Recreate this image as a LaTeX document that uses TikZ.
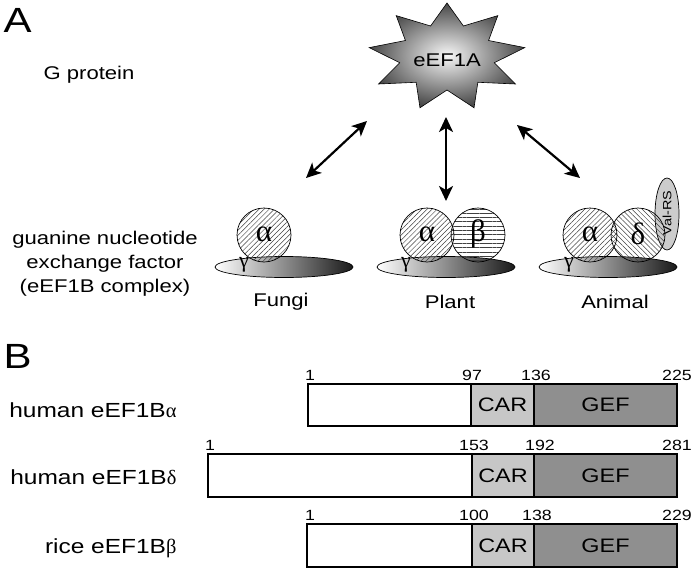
\documentclass[tikz,border=0pt]{standalone}
\usepackage{fontspec}
\setmainfont[FakeStretch=1.2]{Liberation Sans}
\newfontfamily\grk{Liberation Serif}
\usetikzlibrary{patterns.meta,arrows.meta,shadings,calc}
\definecolor{carc}{gray}{0.78}
\definecolor{gefc}{gray}{0.56}
\begin{document}
\begin{tikzpicture}[x=1pt,y=-1pt,
  body/.style={font=\fontsize{18.4}{24}\selectfont},
  lab/.style={font=\fontsize{20.4}{24}\selectfont},
  num/.style={font=\fontsize{14.8}{16}\selectfont},
  dom/.style={font=\fontsize{19.5}{22}\selectfont},
  big/.style={font=\fontsize{35}{40}\selectfont},
  greek/.style={font=\grk\fontsize{31}{32}\selectfont},
  gam/.style={font=\grk\fontsize{22}{24}\selectfont},
  hatchA/.style={pattern={Lines[angle=45,distance=3.6pt,line width=0.5pt]},pattern color=black!75},
  hatchD/.style={pattern={Lines[angle=-45,distance=3.6pt,line width=0.5pt]},pattern color=black!75},
  hatchB/.style={pattern={Lines[angle=0,distance=4.3pt,line width=0.5pt]},pattern color=black!75},
  platform/.style={draw=black,line width=0.7pt,left color=white,right color=black!90},
  subunit/.style={draw=black,line width=0.7pt},
  dbl/.style={{Stealth[length=15pt,width=14pt,inset=4pt]}-{Stealth[length=15pt,width=14pt,inset=4pt]},line width=2.2pt},
  domline/.style={draw=black,line width=1.4pt}]
\useasboundingbox (0,0) rectangle (693,570);

% ---------- Panel A ----------
\node[big,anchor=base west] (labA) at (0,32) {A};
\node[body] (gprot) at (89,75) {G protein};
\node[body,align=center] (gef) at (105,264) {guanine nucleotide\\exchange factor\\(eEF1B complex)};

% star
\draw[line width=0.6pt,inner color=white!97!black,outer color=black!72]
  (447,57) ++(-90:79 and 54)
  \foreach \k in {0,...,8} {
    -- ($(447,57)+(-70+40*\k:48 and 33)$) -- ($(447,57)+(-50+40*\k:79 and 54)$)
  } -- cycle;
\node[body] (eef) at (447,60) {eEF1A};

% arrows
\coordinate (a1s) at (367,121); \coordinate (a1e) at (306,178);
\coordinate (a2s) at (446,117); \coordinate (a2e) at (446,201);
\coordinate (a3s) at (517,125); \coordinate (a3e) at (580,178);
\draw[dbl] (a1s) -- (a1e);
\draw[dbl] (a2s) -- (a2e);
\draw[dbl] (a3s) -- (a3e);

% Fungi
\draw[platform] (284,267) ellipse [x radius=69,y radius=10.5];
\draw[subunit,hatchA] (264,235) circle [radius=27];
\node[greek] (fa) at (264,234) {α};
\node[gam] (fg) at (244,265) {γ};
\node[body] (fungi) at (281,302) {Fungi};

% Plant
\draw[platform] (446,267) ellipse [x radius=69,y radius=10.5];
\draw[subunit,hatchB] (478,235) circle [radius=27];
\draw[subunit,hatchA] (427,235) circle [radius=27];
\node[greek] (pa) at (427,234) {α};
\node[greek] (pb) at (478,234) {β};
\node[gam] (pg) at (406,265) {γ};
\node[body] (plant) at (450,302) {Plant};

% Animal
\draw[platform] (608,267) ellipse [x radius=69,y radius=10.5];
\draw[subunit,fill=black!20] (667,214) ellipse [x radius=12,y radius=36];
\node[font=\fontsize{12}{14}\selectfont,rotate=90] (val) at (667,213) {Val-RS};
\draw[subunit,hatchD] (638,235) circle [radius=27];
\draw[subunit,hatchA] (590,235) circle [radius=27];
\node[greek] (aa) at (590,234) {α};
\node[greek] (ad) at (638,234) {δ};
\node[gam] (ag) at (569,265) {γ};
\node[body] (animal) at (615,302) {Animal};

% ---------- Panel B ----------
\node[big,anchor=base west] (labB) at (0,368) {B};

% row 1
\draw[domline,fill=white] (308,384) rectangle (471,426);
\draw[domline,fill=carc] (471,384) rectangle (534,426);
\draw[domline,fill=gefc] (534,384) rectangle (677,426);
\node[dom] (car1) at (502.5,405) {CAR};
\node[dom] (gef1) at (605.5,405) {GEF};
\node[num,anchor=base] (n11) at (310,380) {1};
\node[num,anchor=base] (n12) at (472,380) {97};
\node[num,anchor=base] (n13) at (536,380) {136};
\node[num,anchor=base] (n14) at (677,380) {225};
\node[lab,anchor=base east] (r1) at (180,417) {human eEF1B{\grk α}};

% row 2
\draw[domline,fill=white] (208,454) rectangle (472,497);
\draw[domline,fill=carc] (472,454) rectangle (534,497);
\draw[domline,fill=gefc] (534,454) rectangle (677,497);
\node[dom] (car2) at (503,475.5) {CAR};
\node[dom] (gef2) at (605.5,475.5) {GEF};
\node[num,anchor=base] (n21) at (210,450) {1};
\node[num,anchor=base] (n22) at (474,450) {153};
\node[num,anchor=base] (n23) at (540,450) {192};
\node[num,anchor=base] (n24) at (677,450) {281};
\node[lab,anchor=base east] (r2) at (180,484) {human eEF1B{\grk δ}};

% row 3
\draw[domline,fill=white] (307,524) rectangle (472,567);
\draw[domline,fill=carc] (472,524) rectangle (534,567);
\draw[domline,fill=gefc] (534,524) rectangle (677,567);
\node[dom] (car3) at (503,545.5) {CAR};
\node[dom] (gef3) at (605.5,545.5) {GEF};
\node[num,anchor=base] (n31) at (310,520) {1};
\node[num,anchor=base] (n32) at (474,520) {100};
\node[num,anchor=base] (n33) at (537,520) {138};
\node[num,anchor=base] (n34) at (677,520) {229};
\node[lab,anchor=base east] (r3) at (180,553) {rice eEF1B{\grk β}};
\end{tikzpicture}
\end{document}
